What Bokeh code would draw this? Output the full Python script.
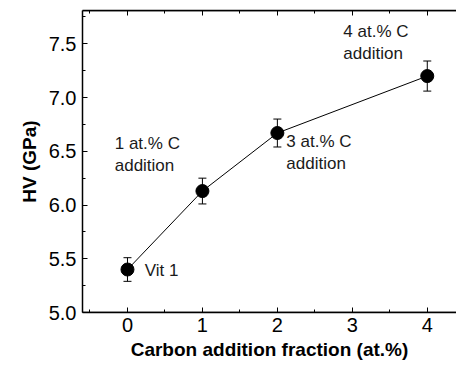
from bokeh.plotting import figure
from bokeh.models import (ColumnDataSource, Whisker, LinearAxis, FixedTicker,
                          Range1d, Label, Span, CustomJSTickFormatter)
from bokeh.embed import file_html
from bokeh.resources import INLINE

# Vickers hardness vs. carbon addition
carbon = [0, 1, 2, 4]
hv = [5.40, 6.13, 6.67, 7.20]
hv_err = [0.11, 0.12, 0.13, 0.14]

x_ticks = [0, 1, 2, 3, 4]
x_minor = [-0.5, 0.5, 1.5, 2.5, 3.5]
y_ticks = [5.0, 5.5, 6.0, 6.5, 7.0, 7.5]
y_minor = [5.25, 5.75, 6.25, 6.75, 7.25, 7.75]

notes = ["Vit 1", "1 at.% C\naddition", "3 at.% C\naddition", "4 at.% C\naddition"]
note_x = [0.23, -0.17, 2.12, 2.88]
note_y = [5.39, 6.47, 6.49, 7.51]

X0, X1 = -0.6, 4.39
Y0, Y1 = 5.0, 7.81
FONT = "Liberation Sans"

p = figure(width=456, height=367, output_backend="svg", toolbar_location=None,
           x_range=Range1d(X0, X1), y_range=Range1d(Y0, Y1),
           min_border_left=82, min_border_right=0, min_border_top=10,
           min_border_bottom=55)
p.outline_line_color = None
p.grid.visible = False

src = ColumnDataSource(dict(x=carbon, y=hv,
                            lo=[v - e for v, e in zip(hv, hv_err)],
                            hi=[v + e for v, e in zip(hv, hv_err)]))

p.line("x", "y", source=src, line_color="black", line_width=1)
w = Whisker(base="x", lower="lo", upper="hi", source=src, line_color="black",
            line_width=1)
for head in (w.upper_head, w.lower_head):
    head.size = 8
    head.line_color = "black"
p.add_layout(w)
p.scatter("x", "y", source=src, size=13, fill_color="black", line_color="black")

for ax in (p.xaxis[0], p.yaxis[0]):
    ax.axis_line_width = 1.5
    ax.major_tick_in = 5
    ax.major_tick_out = 0
    ax.minor_tick_in = 3
    ax.minor_tick_out = 0
    ax.major_label_text_font = FONT
    ax.major_label_text_font_size = "20px"
    ax.major_label_text_color = "black"
    ax.axis_label_text_font = FONT
    ax.axis_label_text_font_style = "bold"
    ax.axis_label_text_font_size = "19px"
    ax.axis_label_text_color = "black"

p.xaxis.ticker = FixedTicker(ticks=x_ticks, minor_ticks=x_minor)
p.yaxis.ticker = FixedTicker(ticks=y_ticks, minor_ticks=y_minor)
p.yaxis.formatter = CustomJSTickFormatter(code="return tick.toFixed(1);")
p.xaxis.axis_label = "Carbon addition fraction (at.%)"
p.yaxis.axis_label = "HV (GPa)"
p.xaxis.major_label_standoff = 5
p.yaxis.major_label_standoff = 6
p.xaxis.axis_label_standoff = 4
p.yaxis.axis_label_standoff = 6

# frame edge along the top, ticks pointing inward, no labels
top = LinearAxis(ticker=FixedTicker(ticks=x_ticks, minor_ticks=x_minor),
                 formatter=CustomJSTickFormatter(code="return '';"),
                 axis_line_width=1.5,
                 major_tick_in=5, major_tick_out=0, minor_tick_in=3,
                 minor_tick_out=0, major_label_standoff=0)
p.add_layout(top, "above")

# full-width frame edges, top and bottom
for loc in (Y0, Y1):
    p.add_layout(Span(location=loc, dimension="width", line_color="black",
                      line_width=1.5))

for t, x, y in zip(notes, note_x, note_y):
    p.add_layout(Label(x=x, y=y, text=t, text_font=FONT,
                       text_font_size="17px", text_color="#1a1a1a",
                       text_baseline="middle", text_line_height=1.15))

open("out.html", "w").write(file_html(p, INLINE))
